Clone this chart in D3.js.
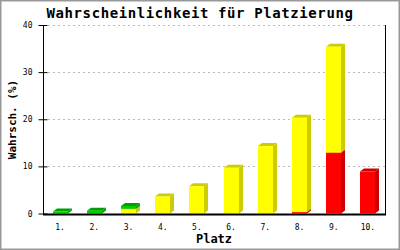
<!DOCTYPE html>
<html>
<head>
<meta charset="utf-8">
<script src="https://cdn.jsdelivr.net/npm/d3@7"></script>
<style>
  body { margin: 0; background: #fff; }
  svg { display: block; }
</style>
</head>
<body>
<div id="chart"></div>
<script>
// data
const places = ["1.", "2.", "3.", "4.", "5.", "6.", "7.", "8.", "9.", "10."];
const red    = [0, 0, 0, 0, 0, 0, 0, 0.3, 12.9, 8.9];
const yellow = [0, 0, 1.0, 3.6, 5.8, 9.7, 14.3, 20.0, 22.5, 0];
const green  = [0.4, 0.6, 0.6, 0, 0, 0, 0, 0, 0, 0];
const yTicks = [0, 10, 20, 30, 40];

const W = 400, H = 250;
const margin = { top: 25, right: 15, bottom: 36, left: 43 };

const svg = d3.select("#chart").append("svg")
    .attr("width", W).attr("height", H);

// outer frame
svg.append("rect")
    .attr("x", 0.5).attr("y", 0.5)
    .attr("width", W - 1).attr("height", H - 1)
    .attr("fill", "#fff").attr("stroke", "#999").attr("stroke-width", 2);

const x = d3.scaleBand().domain(places).range([margin.left, W - margin.right]);
const y = d3.scaleLinear().domain([0, 40]).range([H - margin.bottom - 0.5, margin.top]);

// grid
svg.append("g").selectAll("line")
    .data(yTicks.filter(d => d > 0))
    .join("line")
    .attr("x1", margin.left + 5).attr("x2", W - margin.right)
    .attr("y1", d => Math.round(y(d)) + 0.5).attr("y2", d => Math.round(y(d)) + 0.5)
    .attr("stroke", "#bbb").attr("stroke-dasharray", "2,3");

const series = [
    { values: red,    front: "#ff0000", side: "#cc0000" },
    { values: yellow, front: "#ffff00", side: "#cccc00" },
    { values: green,  front: "#00cc00", side: "#00a000" }
];

const barW = 15, dx = 4, dy = 3;
const bars = svg.append("g");

places.forEach((p, i) => {
    let base = 0;
    const x0 = Math.round(x(p) + x.bandwidth() / 2 - barW / 2);
    series.forEach(s => {
        const v = s.values[i];
        if (v <= 0) return;
        const yb = y(base), yt = y(base + v);
        base += v;
        const g = bars.append("g");
        // side face
        g.append("polygon")
            .attr("points", [[x0 + barW, yb], [x0 + barW, yt], [x0 + barW + dx, yt - dy], [x0 + barW + dx, yb - dy]].join(" "))
            .attr("fill", s.side);
        // top face
        g.append("polygon")
            .attr("points", [[x0, yt], [x0 + dx, yt - dy], [x0 + barW + dx, yt - dy], [x0 + barW, yt]].join(" "))
            .attr("fill", s.side);
        // front face
        g.append("rect")
            .attr("x", x0).attr("y", yt)
            .attr("width", barW).attr("height", yb - yt)
            .attr("fill", s.front);
    });
});

// axes lines
const yAxis = d3.axisLeft(y).tickValues(yTicks).tickSize(5).tickPadding(6);
svg.append("g")
    .attr("transform", `translate(${margin.left + 0.5},0)`)
    .call(yAxis)
    .call(g => g.select(".domain").remove())
    .call(g => g.selectAll(".tick line").attr("x2", 4).attr("x1", -5).attr("stroke", "#000"))
    .call(g => g.selectAll(".tick text")
        .attr("font-family", "DejaVu Sans Mono, monospace")
        .attr("font-size", 8).attr("fill", "#000"));

svg.append("line")
    .attr("x1", margin.left + 0.5).attr("x2", margin.left + 0.5)
    .attr("y1", margin.top).attr("y2", H - margin.bottom)
    .attr("stroke", "#000");
svg.append("line")
    .attr("x1", W - margin.right + 0.5).attr("x2", W - margin.right + 0.5)
    .attr("y1", margin.top).attr("y2", H - margin.bottom)
    .attr("stroke", "#000");
svg.append("line")
    .attr("x1", margin.left).attr("x2", W - margin.right + 1)
    .attr("y1", H - margin.bottom + 0.5).attr("y2", H - margin.bottom + 0.5)
    .attr("stroke", "#000").attr("stroke-width", 2);

const xAxis = d3.axisBottom(x).tickSize(0).tickPadding(10);
svg.append("g")
    .attr("transform", `translate(0,${H - margin.bottom})`)
    .call(xAxis)
    .call(g => g.select(".domain").remove())
    .call(g => g.selectAll(".tick text")
        .attr("font-family", "DejaVu Sans Mono, monospace")
        .attr("font-size", 8).attr("fill", "#000"));

// title and labels
svg.append("text")
    .attr("x", W / 2).attr("y", 18)
    .attr("text-anchor", "middle")
    .attr("font-family", "DejaVu Sans Mono, monospace")
    .attr("font-weight", "bold").attr("font-size", 14)
    .attr("letter-spacing", 0.6)
    .text("Wahrscheinlichkeit für Platzierung");

svg.append("text")
    .attr("x", (margin.left + W - margin.right) / 2).attr("y", 243)
    .attr("text-anchor", "middle")
    .attr("font-family", "DejaVu Sans Mono, monospace")
    .attr("font-weight", "bold").attr("font-size", 12)
    .text("Platz");

svg.append("text")
    .attr("transform", `translate(16,${(margin.top + H - margin.bottom) / 2}) rotate(-90)`)
    .attr("text-anchor", "middle")
    .attr("font-family", "DejaVu Sans Mono, monospace")
    .attr("font-weight", "bold").attr("font-size", 11)
    .text("Wahrsch. (%)");
</script>
</body>
</html>
